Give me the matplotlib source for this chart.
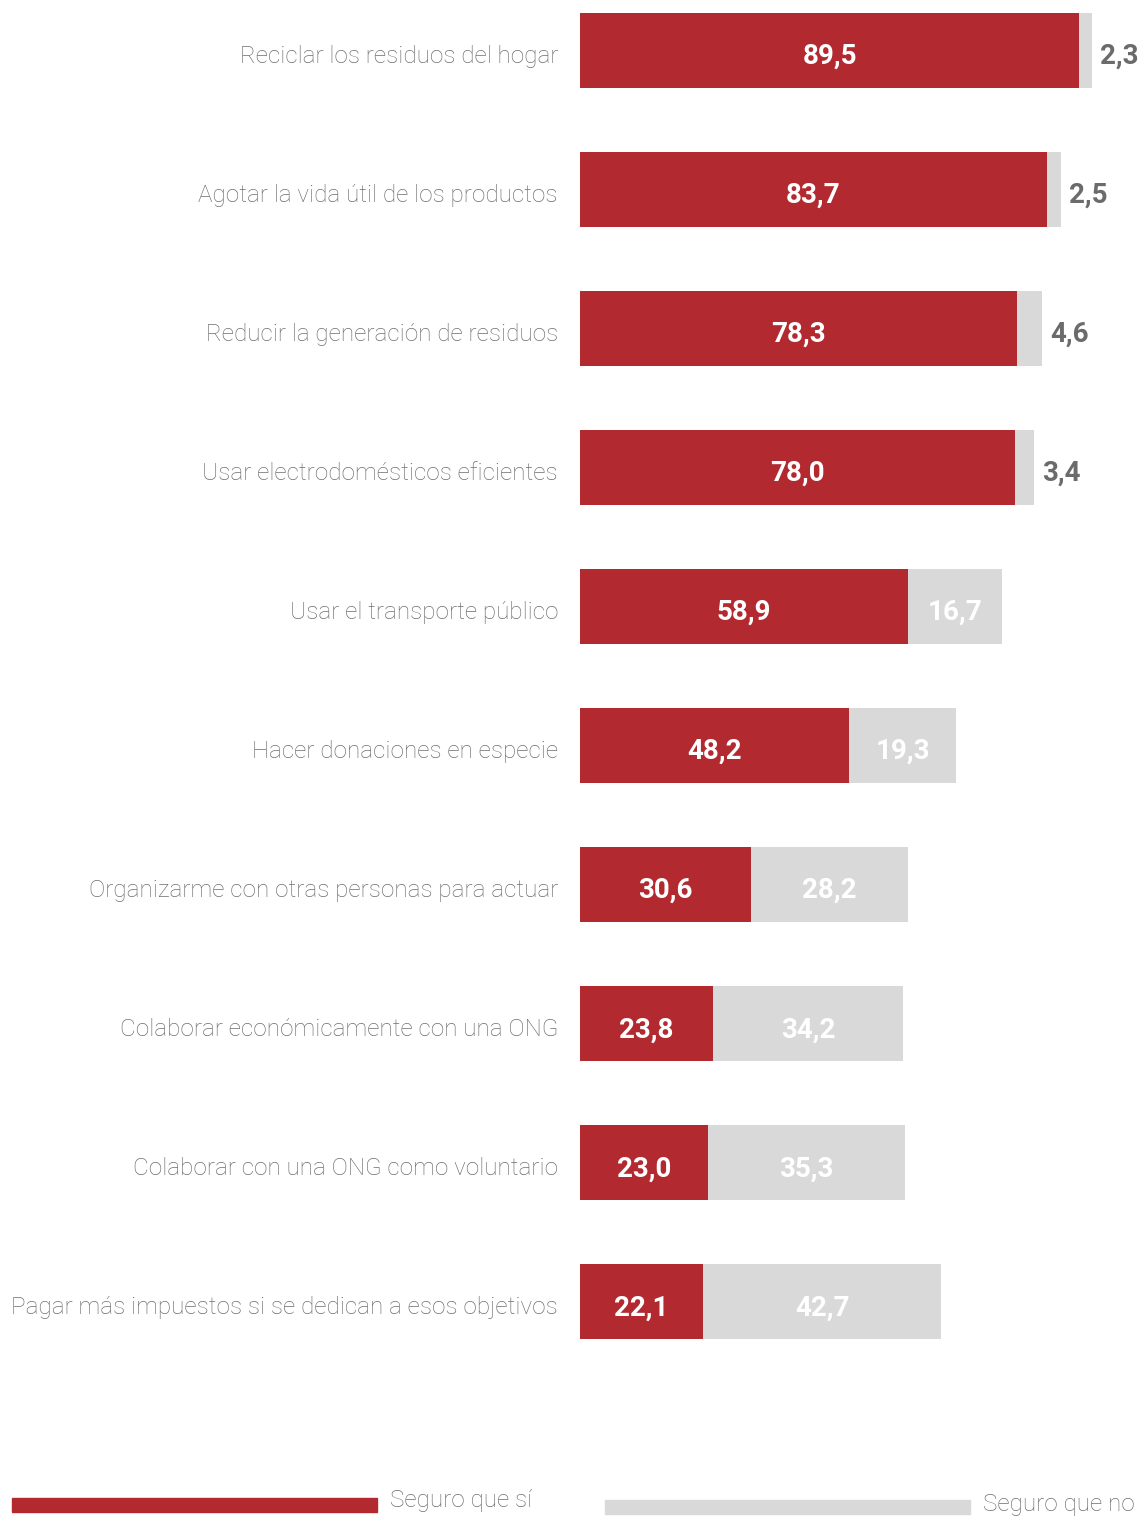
import matplotlib.pyplot as plt

categorias = ["Reciclar los residuos del hogar",
              "Agotar la vida útil de los productos",
              "Reducir la generación de residuos",
              "Usar electrodomésticos eficientes",
              "Usar el transporte público",
              "Hacer donaciones en especie",
              "Organizarme con otras personas para actuar",
              "Colaborar económicamente con una ONG",
              "Colaborar con una ONG como voluntario",
              "Pagar más impuestos si se dedican a esos objetivos"]
seguro_si = [89.5, 83.7, 78.3, 78.0, 58.9, 48.2, 30.6, 23.8, 23.0, 22.1]
seguro_no = [2.3, 2.5, 4.6, 3.4, 16.7, 19.3, 28.2, 34.2, 35.3, 42.7]

ROJO = '#b22a30'
GRIS = '#d9d9d9'
TXT = '#6b6b6b'
LBL = '#6e6e6e'

def fmt(v):
    return f"{v:.1f}".replace('.', ',')

W, H = 1147, 1520
fig = plt.figure(figsize=(W / 100, H / 100), dpi=100)
plt.rcParams['font.family'] = ['Roboto', 'DejaVu Sans']

# axes: x 0..100 -> px 580..1137.7 ; bar centres px 50 + 139.1*i
px_unit = 5.577
step = 139.1
ax = fig.add_axes([580 / W, (H - 1400) / H, 100 * px_unit / W, 1400 / H])
ax.set_xlim(0, 100)
ax.set_ylim((1400 - 50) / step, -50 / step)
ax.axis('off')

ys = list(range(len(categorias)))
ax.barh(ys, seguro_si, height=75 / step, color=ROJO)
ax.barh(ys, seguro_no, left=seguro_si, height=75 / step, color=GRIS)

dy = 6 / step
for y, cat, si, no in zip(ys, categorias, seguro_si, seguro_no):
    ax.text(-22 / px_unit, y + dy, cat, ha='right', va='center', fontsize=17.5,
            fontweight='light', color=LBL)
    ax.text(si / 2, y + dy, fmt(si), ha='center', va='center', fontsize=20,
            fontweight='bold', color='white')
    if no < 10:
        ax.text(si + no + 8 / px_unit, y + dy, fmt(no), ha='left', va='center',
                fontsize=20, fontweight='bold', color=TXT)
    else:
        ax.text(si + no / 2, y + dy, fmt(no), ha='center', va='center',
                fontsize=20, fontweight='bold', color='white')

# legend
fig.patches.append(plt.Rectangle((12 / W, (H - 1512) / H), 365 / W, 14 / H,
                                 transform=fig.transFigure, color=ROJO))
fig.text(390 / W, (H - 1501) / H, "Seguro que sí", ha='left', va='center',
         fontsize=17.5, fontweight='light', color=LBL)
fig.patches.append(plt.Rectangle((605 / W, (H - 1514) / H), 365 / W, 14 / H,
                                 transform=fig.transFigure, color=GRIS))
fig.text(983 / W, (H - 1504) / H, "Seguro que no", ha='left', va='center',
         fontsize=17.5, fontweight='light', color=LBL)

fig.savefig('out.png', dpi=100, facecolor='white')
